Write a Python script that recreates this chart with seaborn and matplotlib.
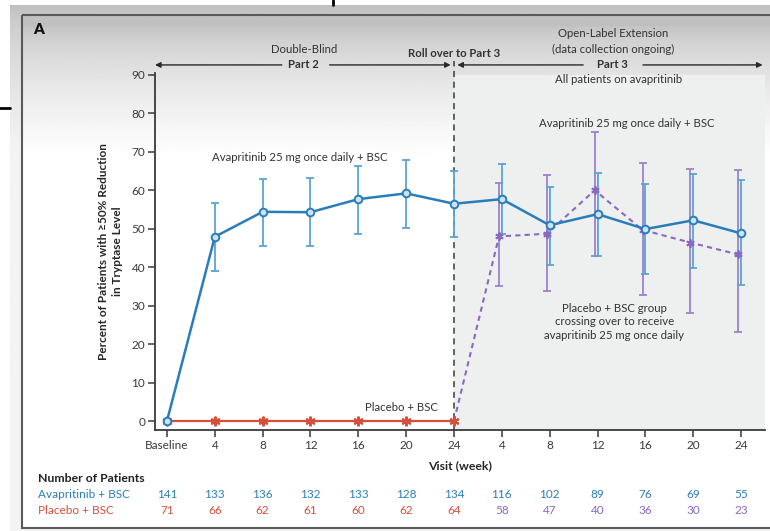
import numpy as np
import pandas as pd
import matplotlib
matplotlib.use("Agg")
import matplotlib.pyplot as plt
import seaborn as sns

# --- data ---
visit_labels = ["Baseline", "4", "8", "12", "16", "20", "24", "4", "8", "12", "16", "20", "24"]
ava_pct = [0, 47.9, 54.4, 54.3, 57.7, 59.2, 56.5, 57.7, 50.9, 53.8, 49.9, 52.2, 48.8]
ava_lo = [np.nan, 39.0, 45.5, 45.5, 48.7, 50.1, 47.8, 48.6, 40.6, 43.0, 38.3, 39.8, 35.3]
ava_hi = [np.nan, 56.8, 62.9, 63.1, 66.3, 67.8, 65.1, 66.8, 60.9, 64.5, 61.6, 64.3, 62.7]
pbo_pct = [0, 0, 0, 0, 0, 0, 0]
cross_pct = [0, 48.0, 48.7, 60.0, 49.7, 46.4, 43.3]   # week 24 of part 2, then part 3
cross_lo = [np.nan, 35.0, 33.9, 43.0, 32.8, 28.2, 23.1]
cross_hi = [np.nan, 61.9, 64.1, 75.2, 67.1, 65.6, 65.4]
n_ava = [141, 133, 136, 132, 133, 128, 134, 116, 102, 89, 76, 69, 55]
n_pbo = [71, 66, 62, 61, 60, 62, 64, 58, 47, 40, 36, 30, 23]

BLUE = "#2a7dbb"
BLUE_ERR = "#5aa3d6"
RED = "#d4503a"
PURPLE = "#8a68c4"
PURPLE_ERR = "#9c82d0"

sns.set_style("ticks")
plt.rcParams["font.family"] = ["Lato", "DejaVu Sans"]

fig = plt.figure(figsize=(7.7, 5.31), dpi=100)

# background layer in pixel coordinates
bg = fig.add_axes([0, 0, 1, 1], zorder=0)
bg.set_xlim(0, 770)
bg.set_ylim(531, 0)
bg.axis("off")
ys = np.arange(5, 532)
outer = 0.74 + 0.21 * np.clip((ys - 5) / 140, 0, 1) ** 0.6
bg.imshow(outer[:, None], extent=[10, 770, 531, 5], aspect="auto", cmap="gray", vmin=0, vmax=1)
inner = 0.75 + 0.25 * np.clip((ys - 15) / 135, 0, 1) ** 0.6
bg.imshow(inner[:, None], extent=[22, 780, 528, 15], aspect="auto", cmap="gray", vmin=0, vmax=1)
bg.add_patch(plt.Rectangle((22, 15), 760, 513, fill=False, ec="#5a5a5a", lw=1.5))
bg.plot([0, 10], [108, 108], color="black", lw=2)
bg.plot([333, 333], [0, 5], color="black", lw=2)
bg.text(33, 30, "A", fontsize=11, fontweight="heavy", va="center", color="#111111")

# main axes
ax = fig.add_axes([155 / 770, 1 - 430 / 531, 610 / 770, 357 / 531], zorder=1)
ax.set_facecolor("none")
ax.set_xlim(-0.25, 12.5)
ax.set_ylim(-2.34, 90.5)
ax.axvspan(6, 12.5, ymax=0.995, color="#eef0ef", zorder=0, lw=0)

x_all = np.arange(len(visit_labels))
df_ava = pd.DataFrame({"x": x_all, "pct": ava_pct})
df_pbo = pd.DataFrame({"x": np.arange(len(pbo_pct)), "pct": pbo_pct})
x_cross = np.arange(6, 13) - np.r_[0, [0.06] * 6]
df_cross = pd.DataFrame({"x": x_cross, "pct": cross_pct})

# error bars
lo = np.array(ava_pct) - np.array(ava_lo)
hi = np.array(ava_hi) - np.array(ava_pct)
ax.errorbar(x_all, ava_pct, yerr=[lo, hi], fmt="none", ecolor=BLUE_ERR, elinewidth=1.3,
            capsize=2.8, capthick=1.3, zorder=3)
lo = np.array(cross_pct) - np.array(cross_lo)
hi = np.array(cross_hi) - np.array(cross_pct)
ax.errorbar(x_cross, cross_pct, yerr=[lo, hi], fmt="none", ecolor=PURPLE_ERR, elinewidth=1.3,
            capsize=2.8, capthick=1.3, zorder=2)

# lines
sns.lineplot(data=df_cross, x="x", y="pct", ax=ax, color=PURPLE, lw=1.5, sort=False,
             linestyle=(0, (2.5, 2)), marker=(6, 2, 0), markersize=6, mew=1.3,
             markeredgecolor=PURPLE, markevery=list(range(1, 7)), zorder=4)
sns.lineplot(data=df_pbo, x="x", y="pct", ax=ax, color=RED, lw=1.6, sort=False,
             marker=(6, 2, 0), markersize=7, mew=1.5, markeredgecolor=RED, zorder=5)
sns.lineplot(data=df_ava, x="x", y="pct", ax=ax, color=BLUE, lw=1.8, sort=False,
             marker="o", markersize=5.5, mew=1.4, markeredgecolor=BLUE,
             markerfacecolor="#cfe2f2", zorder=6)

ax.axvline(6, ymax=1.035, color="#3a3a3a", lw=1.1, linestyle=(0, (4, 3)), zorder=1, clip_on=False)

# axes styling
sns.despine(ax=ax)
for s in ["left", "bottom"]:
    ax.spines[s].set_color("#3a3a3a")
    ax.spines[s].set_linewidth(1.3)
ax.set_xticks(x_all)
ax.set_xticklabels(visit_labels)
ax.set_yticks(range(0, 91, 10))
ax.tick_params(axis="both", labelsize=8.5, colors="#3a3a3a", length=5, width=1.1, pad=2)
ax.set_xlabel("Visit (week)", fontsize=8.8, fontweight="bold", labelpad=7)
ax.set_ylabel("Percent of Patients with \u226550% Reduction\nin Tryptase Level",
              fontsize=8.5, fontweight="bold", labelpad=6, linespacing=1.35)

# in-plot annotations
txt = dict(fontsize=8.2, color="#333333", ha="center", va="center", clip_on=False)
ax.text(2.78, 68.4, "Avapritinib 25 mg once daily + BSC", **txt)
ax.text(9.6, 77.4, "Avapritinib 25 mg once daily + BSC", **txt)
ax.text(9.35, 25.8, "Placebo + BSC group\ncrossing over to receive\navapritinib 25 mg once daily",
        linespacing=1.3, **txt)
ax.text(4.91, 3.4, "Placebo + BSC", **txt)

# header: study parts
ax.text(2.86, 96.5, "Double-Blind", **txt)
ax.text(2.86, 92.6, "Part 2", fontweight="bold", **txt)
ax.text(6.0, 95.6, "Roll over to Part 3", fontweight="bold", **txt)
ax.text(9.32, 100.7, "Open-Label Extension", **txt)
ax.text(9.32, 96.5, "(data collection ongoing)", **txt)
ax.text(9.32, 92.6, "Part 3", fontweight="bold", **txt)
ax.text(9.43, 88.7, "All patients on avapritinib", **txt)
arrow = dict(arrowstyle="-|>", color="#2a2a2a", lw=1.0, mutation_scale=8, shrinkA=0, shrinkB=0)
ax.annotate("", xy=(-0.25, 92.6), xytext=(2.4, 92.6), arrowprops=arrow, annotation_clip=False)
ax.annotate("", xy=(5.93, 92.6), xytext=(3.4, 92.6), arrowprops=arrow, annotation_clip=False)
ax.annotate("", xy=(6.07, 92.6), xytext=(8.7, 92.6), arrowprops=arrow, annotation_clip=False)
ax.annotate("", xy=(12.45, 92.6), xytext=(9.95, 92.6), arrowprops=arrow, annotation_clip=False)

# number of patients table
bg.text(38, 479, "Number of Patients", fontsize=8.8, fontweight="bold", va="center", color="#222222")
bg.text(38, 495, "Avapritinib + BSC", fontsize=8.5, va="center", color=BLUE)
bg.text(38, 510, "Placebo + BSC", fontsize=8.5, va="center", color=RED)
for i, (a, p) in enumerate(zip(n_ava, n_pbo)):
    xpx = 167 + i * 47.83
    bg.text(xpx, 495, str(a), fontsize=8.5, ha="center", va="center", color=BLUE)
    bg.text(xpx, 510, str(p), fontsize=8.5, ha="center", va="center", color=RED if i < 7 else PURPLE)

fig.savefig("out.png", dpi=100)
